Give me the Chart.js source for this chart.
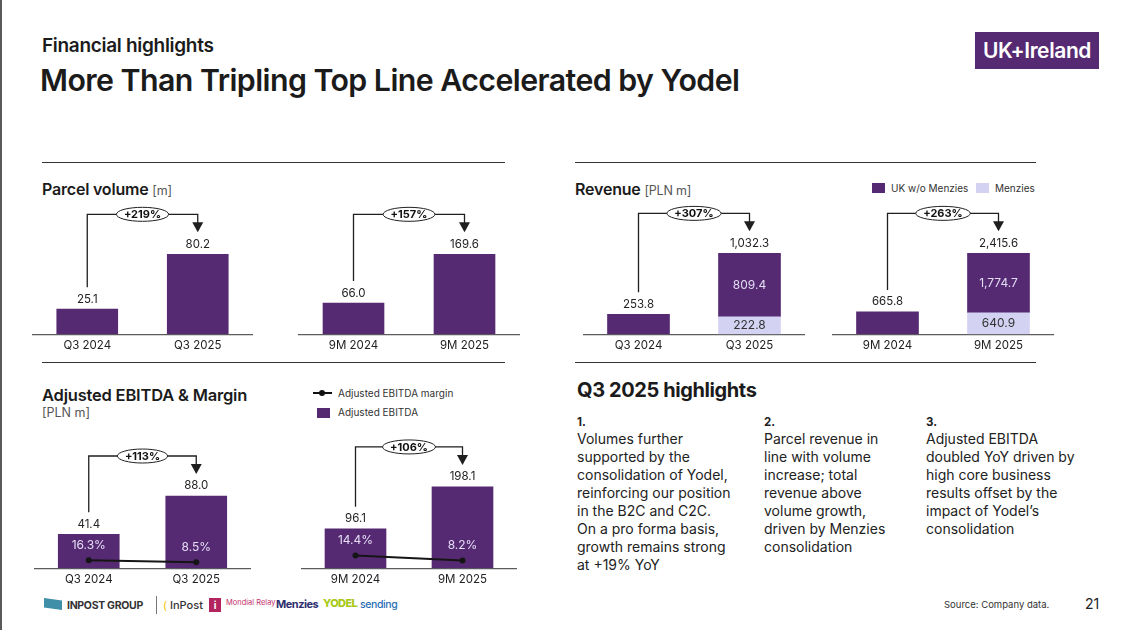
<!DOCTYPE html>
<html>
<head>
<meta charset="utf-8">
<script src="https://cdn.jsdelivr.net/npm/chart.js@4.4.0/dist/chart.umd.min.js"></script>
<style>
  body { margin: 0; width: 1125px; height: 630px; overflow: hidden; background: #fff;
         font-family: Inter, "Noto Sans", sans-serif; color: #1b1b1b; position: relative; }
  .abs { position: absolute; white-space: nowrap; }
  .rule { position: absolute; height: 1px; background: #333; }
  .box { position: absolute; }
  .h2 { font-weight: 600; font-size: 16px; letter-spacing: -0.2px; }
  .unit { font-weight: 400; font-size: 12.5px; color: #555; }
  .leg { font-size: 10px; color: #333; }
  .col { position: absolute; font-size: 14px; line-height: 18px; color: #222; white-space: nowrap; }
  .col b { display: block; font-size: 11.5px; line-height: 14px; font-weight: 700; margin-bottom: 1px; }
</style>
</head>
<body>
<div class="box" style="left:0;top:0;width:2px;height:630px;background:#5a5a5a"></div>

<div class="abs" style="left:42px;top:34px;font-size:19px;font-weight:600;letter-spacing:-0.3px">Financial highlights</div>
<div class="abs" style="left:40px;top:62px;font-size:30.3px;font-weight:600;letter-spacing:-0.55px">More Than Tripling Top Line Accelerated by Yodel</div>
<div class="abs" style="left:975px;top:32px;width:124px;height:37px;background:#552a72;color:#fff;font-size:21px;font-weight:600;line-height:37px;text-align:center;letter-spacing:-0.4px">UK+Ireland</div>

<div class="rule" style="left:42px;top:162px;width:463px"></div>
<div class="rule" style="left:575px;top:162px;width:461px"></div>
<div class="rule" style="left:42px;top:362px;width:463px"></div>
<div class="rule" style="left:575px;top:362px;width:461px"></div>

<div class="abs h2" style="left:42px;top:179px">Parcel volume <span class="unit">[m]</span></div>
<div class="abs h2" style="left:575px;top:179px">Revenue <span class="unit">[PLN m]</span></div>

<div class="box" style="left:872px;top:183px;width:13px;height:10px;background:#552a72"></div>
<div class="abs leg" style="left:891px;top:182px">UK w/o Menzies</div>
<div class="box" style="left:976px;top:183px;width:13px;height:10px;background:#d4d2f3"></div>
<div class="abs leg" style="left:995px;top:182px">Menzies</div>

<div class="abs h2" style="left:42px;top:385px;font-size:16.5px">Adjusted EBITDA &amp; Margin</div>
<div class="abs unit" style="left:42px;top:405px">[PLN m]</div>

<div class="box" style="left:313px;top:392px;width:19px;height:2px;background:#111"></div>
<div class="box" style="left:319px;top:390px;width:6px;height:6px;border-radius:50%;background:#111"></div>
<div class="abs leg" style="left:338px;top:387px">Adjusted EBITDA margin</div>
<div class="box" style="left:317px;top:408px;width:13px;height:10px;background:#552a72"></div>
<div class="abs leg" style="left:338px;top:406px">Adjusted EBITDA</div>

<div class="abs" style="left:577px;top:378px;font-size:20px;font-weight:700;letter-spacing:-0.4px">Q3 2025 highlights</div>
<div class="col" style="left:577px;top:415px"><b>1.</b>Volumes further<br>supported by the<br>consolidation of Yodel,<br>reinforcing our position<br>in the B2C and C2C.<br>On a pro forma basis,<br>growth remains strong<br>at +19% YoY</div>
<div class="col" style="left:764px;top:415px"><b>2.</b>Parcel revenue in<br>line with volume<br>increase; total<br>revenue above<br>volume growth,<br>driven by Menzies<br>consolidation</div>
<div class="col" style="left:926px;top:415px"><b>3.</b>Adjusted EBITDA<br>doubled YoY driven by<br>high core business<br>results offset by the<br>impact of Yodel’s<br>consolidation</div>

<div class="box" style="left:32px;top:200px;width:221px;height:156px"><canvas id="pv1"></canvas></div>
<div class="box" style="left:298px;top:200px;width:222px;height:156px"><canvas id="pv2"></canvas></div>
<div class="box" style="left:583px;top:200px;width:222px;height:156px"><canvas id="rv1"></canvas></div>
<div class="box" style="left:832px;top:200px;width:222px;height:156px"><canvas id="rv2"></canvas></div>
<div class="box" style="left:31px;top:435px;width:223px;height:155px"><canvas id="eb1"></canvas></div>
<div class="box" style="left:298px;top:435px;width:222px;height:155px"><canvas id="eb2"></canvas></div>

<!-- footer logos -->
<div class="box" style="left:44px;top:598px;width:18px;height:12px;background:#3f8fa8;clip-path:polygon(0 0,100% 20%,100% 100%,0 80%)"></div>
<div class="abs" style="left:67px;top:599px;font-size:10.5px;font-weight:700;color:#333;letter-spacing:-0.3px">INPOST GROUP</div>
<div class="box" style="left:156px;top:596px;width:1px;height:18px;background:#777"></div>
<div class="abs" style="left:163px;top:598px;font-size:11px;color:#f2c200">(</div>
<div class="abs" style="left:170px;top:598px;font-size:11px;font-weight:500;color:#333">InPost</div>
<div class="box" style="left:209px;top:598px;width:12px;height:14px;background:#b3245f;color:#fff;font-size:10px;font-weight:700;text-align:center;line-height:14px">i</div>
<div class="abs" style="left:226px;top:598px;font-size:7.5px;color:#c4306a">Mondial Relay</div>
<div class="abs" style="left:276px;top:597px;font-size:11px;font-weight:700;color:#2e2f6e;letter-spacing:-0.5px">Menzies</div>
<div class="abs" style="left:323px;top:596px;font-size:11px;font-weight:800;color:#a9c918;letter-spacing:-0.6px">YODEL</div>
<div class="abs" style="left:360px;top:598px;font-size:10.5px;font-weight:500;color:#2a6fb5;letter-spacing:-0.4px">sending</div>

<div class="abs" style="left:944px;top:599px;font-size:9.5px;color:#333">Source: Company data.</div>
<div class="abs" style="left:1085px;top:595px;font-size:14px;color:#222">21</div>

<script>
// categories
const periodsQ3 = ['Q3 2024', 'Q3 2025'];
const periods9M = ['9M 2024', '9M 2025'];

// parcel volume [m]
const parcelQ3 = [25.1, 80.2];
const parcel9M = [66.0, 169.6];
const parcelGrowth = ['+219%', '+157%'];

// revenue [PLN m]
const revUkQ3 = [253.8, 809.4];
const revMenziesQ3 = [null, 222.8];
const revTotalQ3 = [253.8, 1032.3];
const revUk9M = [665.8, 1774.7];
const revMenzies9M = [null, 640.9];
const revTotal9M = [665.8, 2415.6];
const revGrowth = ['+307%', '+263%'];

// adjusted EBITDA [PLN m] and margin [%]
const ebitdaQ3 = [41.4, 88.0];
const ebitda9M = [96.1, 198.1];
const marginQ3 = [16.3, 8.5];
const margin9M = [14.4, 8.2];
const ebitdaGrowth = ['+113%', '+106%'];

const PURPLE = '#552a72';
const LAVENDER = '#d4d2f3';

function fmt(v) {
  return v.toLocaleString('en-US', { minimumFractionDigits: 1, maximumFractionDigits: 1 });
}

const annotate = {
  id: 'annotate',
  afterDatasetsDraw(chart, args, opts) {
    const ctx = chart.ctx;
    const all = chart.data.datasets.map((d, i) => ({ d, meta: chart.getDatasetMeta(i) }));
    const bars = all.filter(o => o.d.type !== 'line');
    const line = all.find(o => o.d.type === 'line');
    const n = chart.data.labels.length;
    const tops = [], xs = [];
    for (let i = 0; i < n; i++) {
      const els = bars.filter(o => o.d.data[i] != null).map(o => o.meta.data[i]);
      tops.push(Math.min(...els.map(e => e.y)));
      xs.push(els[0].x);
    }
    ctx.save();
    ctx.textAlign = 'center';
    ctx.textBaseline = 'middle';

    // values inside stacked segments
    for (let i = 0; i < n; i++) {
      const segs = bars.filter(o => o.d.data[i] != null);
      if (segs.length < 2) continue;
      segs.forEach(o => {
        const el = o.meta.data[i];
        ctx.font = '12px Inter';
        ctx.fillStyle = o.d.inner;
        ctx.fillText(fmt(o.d.data[i]), el.x, (el.y + el.base) / 2);
      });
    }

    // totals above bars
    ctx.font = '11.5px Inter';
    ctx.fillStyle = '#222';
    opts.totals.forEach((v, i) => ctx.fillText(fmt(v), xs[i], tops[i] - 10));

    // margin labels inside bars
    if (line) {
      ctx.font = '12px Inter';
      ctx.fillStyle = '#e6def6';
      line.meta.data.forEach((p, i) => ctx.fillText(fmt(line.d.data[i]) + '%', p.x, p.y - 15));
    }

    // growth bracket
    const x0 = xs[0], x1 = xs[1];
    const yStart = tops[0] - 22, tip = tops[1] - 22, yTop = tip - 18;
    ctx.strokeStyle = '#1f1f1f';
    ctx.lineWidth = 1.3;
    ctx.beginPath();
    ctx.moveTo(x0, yStart);
    ctx.lineTo(x0, yTop);
    ctx.lineTo(x1, yTop);
    ctx.lineTo(x1, tip - 8);
    ctx.stroke();
    ctx.fillStyle = '#1f1f1f';
    ctx.beginPath();
    ctx.moveTo(x1 - 5.5, tip - 10);
    ctx.lineTo(x1 + 5.5, tip - 10);
    ctx.lineTo(x1, tip);
    ctx.closePath();
    ctx.fill();

    const cx = (x0 + x1) / 2;
    ctx.font = 'bold 11px Inter';
    const w = ctx.measureText(opts.growth).width + 15;
    ctx.beginPath();
    ctx.ellipse(cx, yTop, w / 2, 7, 0, 0, Math.PI * 2);
    ctx.fillStyle = '#fff';
    ctx.fill();
    ctx.lineWidth = 1;
    ctx.stroke();
    ctx.fillStyle = '#111';
    ctx.fillText(opts.growth, cx, yTop + 0.5);
    ctx.restore();
  }
};

function makeChart(id, labels, datasets, totals, growth, headroom, y1) {
  const maxVal = Math.max(...totals);
  const scales = {
    x: {
      stacked: true,
      grid: { display: false, drawTicks: false },
      border: { display: true, color: '#5c5c5c', width: 1.2 },
      ticks: { padding: 4, color: '#222', font: { family: 'Inter', size: 11.5 } }
    },
    y: { stacked: true, display: false, min: 0, max: maxVal * headroom }
  };
  if (y1) scales.y1 = { display: false, min: y1[0], max: y1[1] };
  return new Chart(document.getElementById(id), {
    type: 'bar',
    data: { labels, datasets },
    options: {
      responsive: true,
      maintainAspectRatio: false,
      animation: false,
      layout: { padding: 0 },
      plugins: { legend: { display: false }, tooltip: { enabled: false }, annotate: { totals, growth } },
      scales
    },
    plugins: [annotate]
  });
}

function bar(data, color, inner, thickness) {
  return { data, backgroundColor: color, inner, barThickness: thickness, borderWidth: 0, order: 1 };
}

function marginLine(data) {
  return {
    type: 'line', data, yAxisID: 'y1', order: 0,
    borderColor: '#151515', borderWidth: 2, pointRadius: 3,
    pointBackgroundColor: '#151515', pointBorderWidth: 0, tension: 0
  };
}

makeChart('pv1', periodsQ3, [bar(parcelQ3, PURPLE, '#fff', 61)], parcelQ3, parcelGrowth[0], 1.68);
makeChart('pv2', periods9M, [bar(parcel9M, PURPLE, '#fff', 61)], parcel9M, parcelGrowth[1], 1.68);

makeChart('rv1', periodsQ3, [
  bar(revMenziesQ3, LAVENDER, '#333', 62),
  bar(revUkQ3, PURPLE, '#e2dcf2', 62)
], revTotalQ3, revGrowth[0], 1.66);
makeChart('rv2', periods9M, [
  bar(revMenzies9M, LAVENDER, '#333', 62),
  bar(revUk9M, PURPLE, '#e2dcf2', 62)
], revTotal9M, revGrowth[1], 1.66);

makeChart('eb1', periodsQ3, [marginLine(marginQ3), bar(ebitdaQ3, PURPLE, '#fff', 61)],
  ebitdaQ3, ebitdaGrowth[0], 1.79, [-14.9, 500]);
makeChart('eb2', periods9M, [marginLine(margin9M), bar(ebitda9M, PURPLE, '#fff', 61)],
  ebitda9M, ebitdaGrowth[1], 1.59, [-1.7, 162]);
</script>
</body>
</html>
